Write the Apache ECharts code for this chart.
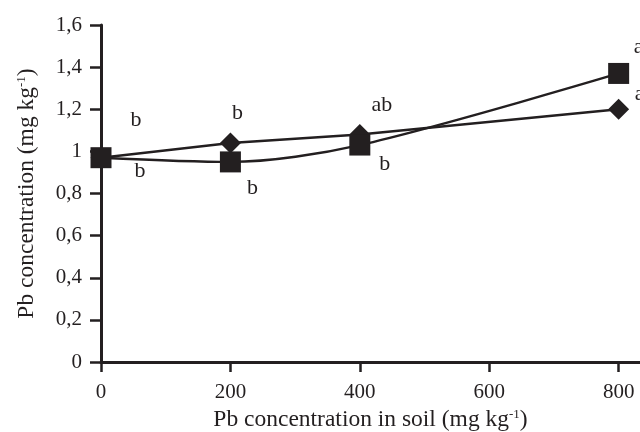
<!DOCTYPE html>
<html>
<head>
<meta charset="utf-8">
<script src="https://cdn.jsdelivr.net/npm/echarts@6/dist/echarts.min.js"></script>
<style>
  html, body { margin: 0; padding: 0; background: #ffffff; }
  #chart { width: 640px; height: 432px; }
</style>
</head>
<body>
<div id="chart"></div>
<script>
// soil Pb dose (x) and Pb concentration in tissue (y)
const doses = [0, 200, 400, 800];
const diamondValues = [0.97, 1.04, 1.08, 1.2];
const squareValues = [0.97, 0.95, 1.03, 1.37];
const diamondLetters = ["b", "b", "ab", "a"];
const squareLetters = ["b", "b", "b", "a"];
const xTicks = [0, 200, 400, 600, 800];
const yTickLabels = ["0", "0,2", "0,4", "0,6", "0,8", "1", "1,2", "1,4", "1,6"];

const ink = "#231f20";
const font = "Liberation Serif";

// letter offsets from the marker centre
const diamondOffsets = [[35, -37], [7, -30], [22, -29], [21, -15]];
const squareOffsets = [[39, 14], [22, 26], [25, 19], [20, -26]];

function buildData(values, letters, offsets) {
  return doses.map((d, i) => ({
    value: [d, values[i]],
    label: { formatter: letters[i], offset: offsets[i] },
  }));
}

const nameStyle = {
  fontFamily: font, fontSize: 23.5, color: ink,
  rich: { sup: { fontFamily: font, fontSize: 13, color: ink, verticalAlign: "top", padding: [0, 0, 11, 0] } },
};

const chart = echarts.init(document.getElementById("chart"));
chart.setOption({
  backgroundColor: "#ffffff",
  animation: false,
  textStyle: { fontFamily: font, color: ink },
  grid: { left: 101, right: 0, top: 25, bottom: 70, containLabel: false, outerBoundsMode: "none" },
  xAxis: {
    type: "value",
    min: 0,
    max: 833,
    interval: 200,
    name: "Pb concentration in soil (mg kg{sup|-1})",
    nameLocation: "middle",
    nameGap: 43,
    nameTextStyle: nameStyle,
    axisLine: { lineStyle: { color: ink, width: 3 } },
    axisTick: { show: true, length: 10, lineStyle: { color: ink, width: 2.5 }, customValues: xTicks },
    axisLabel: { fontFamily: font, fontSize: 21, color: ink, margin: 20, customValues: xTicks },
    splitLine: { show: false },
  },
  yAxis: {
    type: "value",
    min: 0,
    max: 1.6,
    interval: 0.2,
    name: "Pb concentration (mg kg{sup|-1})",
    nameLocation: "middle",
    nameGap: 62,
    nameTextStyle: nameStyle,
    axisLine: { show: true, lineStyle: { color: ink, width: 3 } },
    axisTick: { show: true, length: 11, lineStyle: { color: ink, width: 2.5 } },
    axisLabel: {
      fontFamily: font, fontSize: 21, color: ink, margin: 19,
      formatter: (v) => yTickLabels[Math.round(v / 0.2)],
    },
    splitLine: { show: false },
  },
  series: [
    {
      name: "diamond",
      type: "line",
      symbol: "diamond",
      symbolSize: 21,
      itemStyle: { color: ink },
      lineStyle: { color: ink, width: 2.4 },
      label: { show: true, position: "inside", fontFamily: font, fontSize: 22, color: ink },
      data: buildData(diamondValues, diamondLetters, diamondOffsets),
      z: 2,
    },
    {
      name: "square",
      type: "line",
      symbol: "rect",
      symbolSize: 21,
      smooth: 0.3,
      itemStyle: { color: ink },
      lineStyle: { color: ink, width: 2.4 },
      label: { show: true, position: "inside", fontFamily: font, fontSize: 22, color: ink },
      data: buildData(squareValues, squareLetters, squareOffsets),
      z: 3,
    },
  ],
});
</script>
</body>
</html>
